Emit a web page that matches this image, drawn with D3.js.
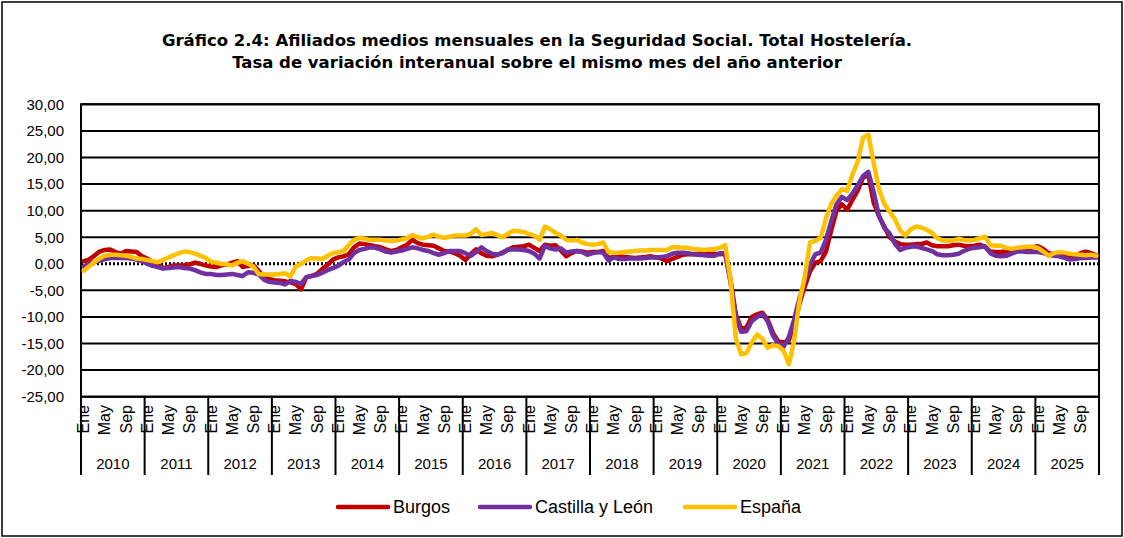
<!DOCTYPE html>
<html><head><meta charset="utf-8">
<script src="https://cdn.jsdelivr.net/npm/d3@7"></script>
<style>
html,body{margin:0;padding:0;background:#fff;}
svg{display:block;}
text{font-family:"Liberation Sans",Arial,sans-serif;fill:#000;}
</style></head>
<body><svg id="chart" width="1124" height="538"></svg>
<script>
// ---------------- DATA ----------------
const years = [2010,2011,2012,2013,2014,2015,2016,2017,2018,2019,2020,2021,2022,2023,2024,2025];
const monthNames = ["Ene","Feb","Mar","Abr","May","Jun","Jul","Ago","Sep","Oct","Nov","Dic"];
const shownMonths = ["Ene","May","Sep"];
const yTicks = [30,25,20,15,10,5,0,-5,-10,-15,-20,-25];
const seriesNames = ["Burgos","Castilla y León","España"];
const seriesColors = ["#C00000","#7030A0","#FFC000"];

const burgos = [
 0.5,0.8,1.5,2.3,2.6,2.7,2.2,1.9,2.4,2.3,2.2,1.4,
 1.0,0.3,-0.3,-0.8,-0.6,-0.3,-0.3,-0.3,-0.1,0.2,0.0,-0.3,
 -0.5,-0.6,-0.3,-0.1,0.2,0.5,-0.6,-0.4,-0.3,-1.3,-2.5,-2.9,
 -3.1,-3.2,-3.3,-3.5,-3.8,-4.8,-2.5,-2.3,-1.9,-1.0,-0.2,0.8,
 1.2,1.4,1.8,3.1,3.8,3.7,3.5,3.3,3.1,2.7,2.4,2.6,
 3.1,3.6,4.5,3.9,3.6,3.5,3.4,2.9,2.4,2.3,2.0,1.5,
 0.7,1.8,2.7,2.0,1.5,1.4,1.7,2.1,2.6,3.1,3.2,3.3,
 3.6,3.0,2.4,3.6,3.4,3.5,2.5,1.4,2.0,2.4,2.3,2.1,
 2.2,2.2,2.4,1.1,1.3,1.4,1.3,1.2,1.1,1.2,1.3,1.4,
 1.2,1.0,0.5,0.9,1.3,1.7,1.8,1.8,1.9,1.9,1.9,1.9,
 1.8,1.9,-3.0,-9.5,-12.2,-12.0,-10.0,-9.5,-9.2,-10.5,-13.0,-14.6,
 -14.8,-14.4,-11.5,-7.5,-4.3,-1.4,0.2,0.5,2.3,6.3,10.0,11.2,
 10.2,12.0,13.8,16.2,16.8,11.5,9.0,7.0,5.0,4.2,3.7,3.6,
 3.6,3.7,3.7,4.0,3.5,3.3,3.3,3.3,3.5,3.6,3.4,3.3,
 3.4,3.6,3.2,2.3,2.2,2.2,2.3,2.4,2.6,2.7,2.8,3.1,
 3.3,2.8,2.0,1.8,1.7,1.5,1.3,1.3,2.0,2.3,2.0,1.6
];
const castillaLeon = [
 -0.5,0.0,0.3,0.6,0.9,1.1,1.1,1.1,1.1,1.0,0.8,0.5,
 0.0,-0.4,-0.6,-0.9,-0.8,-0.7,-0.6,-0.8,-0.9,-1.2,-1.6,-1.9,
 -1.9,-2.1,-2.1,-2.0,-1.9,-2.1,-2.3,-1.6,-1.7,-2.0,-3.0,-3.4,
 -3.5,-3.6,-3.9,-3.2,-3.4,-3.8,-2.5,-2.3,-2.1,-1.7,-1.2,-0.8,
 -0.4,0.3,0.8,2.0,2.6,2.8,3.1,3.0,2.7,2.3,2.1,2.3,
 2.5,2.8,3.1,2.9,2.6,2.4,2.0,1.7,2.0,2.4,2.4,2.4,
 2.0,1.5,2.2,3.1,2.4,1.9,1.7,2.0,2.7,2.7,2.7,2.6,
 2.4,1.9,1.0,3.4,2.9,2.7,2.9,2.1,2.3,2.4,2.2,1.7,
 2.0,2.2,2.1,0.6,1.2,0.9,0.9,1.0,1.0,1.0,1.1,1.2,
 1.2,1.3,1.4,1.9,2.1,2.1,2.0,1.8,1.7,1.6,1.5,1.5,
 2.0,2.0,-3.5,-10.0,-12.8,-12.7,-10.8,-10.0,-9.5,-10.8,-13.5,-15.0,
 -15.6,-13.8,-10.5,-6.5,-3.4,-0.2,1.8,2.1,4.5,8.0,11.2,12.6,
 12.0,13.2,14.8,16.5,17.3,13.5,9.0,6.8,5.7,3.8,2.6,3.0,
 3.2,3.3,3.0,2.7,2.4,1.8,1.6,1.6,1.7,1.9,2.4,2.8,
 3.0,3.1,3.3,2.0,1.5,1.4,1.5,1.9,2.3,2.3,2.2,2.2,
 2.2,2.0,1.7,1.5,1.4,1.1,0.8,0.9,1.1,1.1,1.2,1.2
];
const espana = [
 -1.3,-0.5,0.3,1.0,1.5,1.7,1.7,1.6,1.5,1.3,1.0,0.9,
 0.7,0.5,0.3,0.7,1.2,1.6,2.0,2.3,2.2,1.9,1.5,1.1,
 0.4,0.2,0.0,-0.1,-0.3,0.2,0.5,0.0,-0.5,-1.9,-2.0,-2.0,
 -2.0,-1.9,-1.8,-2.4,-0.5,0.0,0.6,1.1,1.0,0.9,1.5,2.0,
 2.2,2.4,3.5,4.5,4.9,4.7,4.5,4.5,4.5,4.4,4.3,4.4,
 4.6,4.8,5.4,5.0,4.8,5.1,5.5,5.1,4.9,5.1,5.3,5.3,
 5.3,5.6,6.5,5.4,5.6,5.8,5.4,5.0,5.6,6.2,6.1,6.0,
 5.6,5.3,4.5,7.0,6.5,5.8,5.3,4.5,4.4,4.5,4.0,3.7,
 3.6,3.7,4.0,2.2,2.1,2.1,2.2,2.3,2.4,2.5,2.5,2.6,
 2.6,2.6,2.6,3.1,3.1,3.0,3.0,2.8,2.7,2.6,2.7,2.8,
 3.0,3.5,-3.0,-14.0,-17.0,-16.8,-14.8,-13.3,-14.1,-15.8,-15.3,-15.5,
 -16.3,-18.9,-14.5,-7.0,-2.5,4.0,4.3,4.9,8.5,11.3,12.8,14.0,
 13.7,16.8,19.2,23.7,24.3,19.0,14.0,11.3,9.8,8.4,6.3,5.3,
 6.5,7.0,6.8,6.4,5.8,4.8,4.4,4.3,4.4,4.7,4.5,4.4,
 4.5,4.8,5.1,3.5,3.4,3.4,3.0,2.8,3.0,3.1,3.2,3.2,
 3.0,2.3,1.5,2.0,2.2,2.1,1.9,1.8,1.7,1.6,1.7,1.5
];
const allSeries = [burgos, castillaLeon, espana];

// ---------------- LAYOUT ----------------
const W = 1124, H = 538;
const P = {left:81, right:1099, top:104.3, bottom:396.7};
const svg = d3.select("#chart");

const months = [];
years.forEach(y => monthNames.forEach((m,mi) => months.push({key:y+"-"+mi, year:y, m:m})));

const x = d3.scaleBand().domain(months.map(d=>d.key)).range([P.left,P.right]).padding(0);
const xYear = d3.scaleBand().domain(years).range([P.left,P.right]).padding(0);
const y = d3.scaleLinear().domain([-25,30]).range([P.bottom,P.top]);
const fmt = v => d3.format(".2f")(v).replace(".",",").replace("−","-");

// outer frame
svg.append("rect").attr("x",2).attr("y",2).attr("width",W-4).attr("height",H-4)
  .attr("fill","none").attr("stroke","#000").attr("stroke-width",1.5);

// title
const title = svg.append("text").attr("text-anchor","middle")
  .style("font-family","'DejaVu Sans',sans-serif").style("font-weight","bold").style("font-size","16.5px");
title.append("tspan").attr("x",537).attr("y",46).text("Gráfico 2.4: Afiliados medios mensuales en la Seguridad Social. Total Hostelería.");
title.append("tspan").attr("x",537).attr("y",68).text("Tasa de variación interanual sobre el mismo mes del año anterior");

// gridlines
svg.append("g").selectAll("line").data(yTicks.filter(v=>v!==0)).join("line")
  .attr("x1",P.left).attr("x2",P.right).attr("y1",d=>y(d)).attr("y2",d=>y(d))
  .attr("stroke","#000").attr("stroke-width",2);

// y axis labels
const yAxis = d3.axisLeft(y).tickValues(yTicks).tickFormat(fmt).tickSize(0).tickPadding(17);
svg.append("g").attr("transform",`translate(${P.left},0)`).call(yAxis)
  .call(g=>g.select(".domain").remove())
  .call(g=>g.selectAll("text").style("font-family","'Liberation Sans',Arial,sans-serif").style("font-size","15px").attr("fill","#000"));

// zero line (dotted)
svg.append("line").attr("x1",P.left).attr("x2",P.right).attr("y1",y(0)).attr("y2",y(0))
  .attr("stroke","#000").attr("stroke-width",3).attr("stroke-dasharray","2,2");

// plot border
svg.append("rect").attr("x",P.left).attr("y",P.top).attr("width",P.right-P.left).attr("height",P.bottom-P.top)
  .attr("fill","none").attr("stroke","#000").attr("stroke-width",2);

// series
const line = d3.line().x((d,i)=>x(months[i].key)+x.bandwidth()/2).y(d=>y(d));
svg.append("g").selectAll("path").data(allSeries).join("path")
  .attr("d",d=>line(d)).attr("fill","none")
  .attr("stroke",(d,i)=>seriesColors[i]).attr("stroke-width",4.5)
  .attr("stroke-linejoin","round").attr("stroke-linecap","round");

// x axis: year separators
const bounds = years.map(yr=>xYear(yr)).concat([P.right]);
svg.append("g").selectAll("line").data(bounds).join("line")
  .attr("x1",d=>d).attr("x2",d=>d).attr("y1",P.bottom).attr("y2",475)
  .attr("stroke","#000").attr("stroke-width",2);

// month labels
svg.append("g").selectAll("text").data(months.filter(d=>shownMonths.includes(d.m))).join("text")
  .attr("transform",d=>`translate(${x(d.key)+x.bandwidth()/2},405) rotate(-90)`)
  .attr("text-anchor","end").attr("dy","0.35em")
  .style("font-size","16px").text(d=>d.m);

// year labels
svg.append("g").selectAll("text").data(years).join("text")
  .attr("x",d=>xYear(d)+xYear.bandwidth()/2).attr("y",469)
  .attr("text-anchor","middle").style("font-size","15px").text(d=>d);

// legend
const legendPos = [338,480,685];
const lg = svg.append("g").selectAll("g").data(seriesNames).join("g")
  .attr("transform",(d,i)=>`translate(${legendPos[i]},507)`);
lg.append("line").attr("x1",0).attr("x2",50).attr("y1",0).attr("y2",0)
  .attr("stroke",(d,i)=>seriesColors[i]).attr("stroke-width",4.5).attr("stroke-linecap","round");
lg.append("text").attr("x",55).attr("dy","0.35em").style("font-size","18px").text(d=>d);
</script></body></html>
